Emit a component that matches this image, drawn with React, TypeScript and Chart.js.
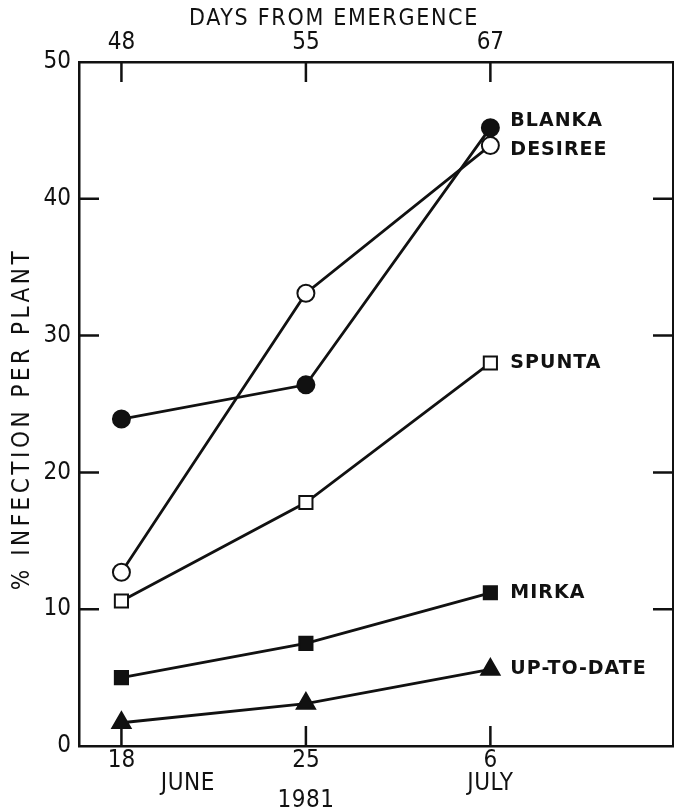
import React, { useEffect, useRef } from 'react';
import { Chart, registerables } from 'chart.js';

Chart.register(...registerables);

// ---- data ----
const X_INDEX = [0, 1, 2];
const DATE_LABELS = ['18', '25', '6'];
const DAY_LABELS = ['48', '55', '67'];
const BLANKA = [23.9, 26.4, 45.2];
const DESIREE = [12.7, 33.1, 43.9];
const SPUNTA = [10.6, 17.8, 28.0];
const MIRKA = [5.0, 7.5, 11.2];
const UP_TO_DATE = [1.7, 3.1, 5.6];
const Y_TICKS = [0, 10, 20, 30, 40, 50];
const Y_INNER_TICKS = [10, 20, 30, 40];
const MONTH_LABELS = ['JUNE', 'JULY'];
const YEAR_LABEL = '1981';
const X_TITLE_TOP = 'DAYS FROM EMERGENCE';
const Y_TITLE = '% INFECTION PER PLANT';

const INK = '#111111';
const NARROW = "'DejaVu Sans Condensed', 'DejaVu Sans', sans-serif";
const WIDE = "'DejaVu Sans', 'Noto Sans', sans-serif";

const SERIES = [
  { name: 'DESIREE', data: DESIREE, style: 'circle', filled: false, radius: 8.5, labelDy: 5 },
  { name: 'BLANKA', data: BLANKA, style: 'circle', filled: true, radius: 8.5, labelDy: -7 },
  { name: 'SPUNTA', data: SPUNTA, style: 'rect', filled: false, radius: 9.3, labelDy: 0 },
  { name: 'MIRKA', data: MIRKA, style: 'rect', filled: true, radius: 9.3, labelDy: 0 },
  { name: 'UP-TO-DATE', data: UP_TO_DATE, style: 'triangle', filled: true, radius: 10.5, labelDy: 0 },
];

const zeroPad = (s: any) => {
  s.paddingLeft = 0;
  s.paddingRight = 0;
  s.paddingTop = 0;
  s.paddingBottom = 0;
};

const decorPlugin = {
  id: 'decor',
  beforeDatasetsDraw(chart: any) {
    const ctx = chart.ctx;
    const { left, right, top, bottom } = chart.chartArea;
    const xs = chart.scales.x;
    const ys = chart.scales.y;
    const L = 20;
    ctx.save();
    ctx.strokeStyle = INK;
    ctx.lineWidth = 2.5;
    ctx.beginPath();
    for (const v of X_INDEX) {
      const px = xs.getPixelForValue(v);
      ctx.moveTo(px, bottom);
      ctx.lineTo(px, bottom - L);
      ctx.moveTo(px, top);
      ctx.lineTo(px, top + L);
    }
    for (const v of Y_INNER_TICKS) {
      const py = ys.getPixelForValue(v);
      ctx.moveTo(left, py);
      ctx.lineTo(left + L, py);
      ctx.moveTo(right, py);
      ctx.lineTo(right - L, py);
    }
    ctx.stroke();
    ctx.restore();
  },
  afterDraw(chart: any) {
    const ctx = chart.ctx;
    const xs = chart.scales.x;
    const ys = chart.scales.y;
    const { top, bottom } = chart.chartArea;
    ctx.save();
    ctx.fillStyle = INK;
    ctx.textBaseline = 'middle';

    // series labels
    ctx.font = `bold 19px ${WIDE}`;
    (ctx as any).letterSpacing = '1px';
    ctx.textAlign = 'left';
    SERIES.forEach((s) => {
      const last = X_INDEX.length - 1;
      const px = xs.getPixelForValue(X_INDEX[last]);
      const py = ys.getPixelForValue(s.data[last]);
      ctx.fillText(s.name, px + 20, py + s.labelDy);
    });

    // top title
    ctx.font = `23px ${NARROW}`;
    (ctx as any).letterSpacing = '1.7px';
    ctx.textAlign = 'center';
    ctx.fillText(X_TITLE_TOP, 334, top - 43);

    // month / year labels
    ctx.font = `24px ${NARROW}`;
    (ctx as any).letterSpacing = '0.5px';
    ctx.fillText(MONTH_LABELS[0], xs.getPixelForValue(0.36), bottom + 38);
    ctx.fillText(MONTH_LABELS[1], xs.getPixelForValue(X_INDEX[2]), bottom + 38);
    ctx.fillText(YEAR_LABEL, xs.getPixelForValue(X_INDEX[1]), bottom + 55);

    // y title
    (ctx as any).letterSpacing = '3.5px';
    ctx.translate(23, ys.getPixelForValue(23.9));
    ctx.rotate(-Math.PI / 2);
    ctx.fillText(Y_TITLE, 0, 0);
    ctx.restore();
  },
};

export default function App() {
  const ref = useRef<HTMLCanvasElement | null>(null);
  useEffect(() => {
    if (!ref.current) return;
    const tickFont = { family: NARROW, size: 24, lineHeight: 1 };
    const chart = new Chart(ref.current, {
      type: 'line',
      data: {
        datasets: SERIES.map((s) => ({
          label: s.name,
          data: X_INDEX.map((x, i) => ({ x, y: s.data[i] })),
          borderColor: INK,
          borderWidth: 2.8,
          pointStyle: s.style as any,
          pointRadius: s.radius,
          pointBackgroundColor: s.filled ? INK : '#ffffff',
          pointBorderColor: INK,
          pointBorderWidth: 2,
          tension: 0,
          clip: false,
          xAxisID: 'x',
          yAxisID: 'y',
        })),
      },
      options: {
        animation: false,
        responsive: false,
        layout: { padding: 0, autoPadding: false },
        plugins: { legend: { display: false }, tooltip: { enabled: false } },
        scales: {
          x: {
            type: 'linear',
            position: 'bottom',
            min: -0.23,
            max: 2.99,
            afterBuildTicks: (s: any) => {
              s.ticks = X_INDEX.map((v) => ({ value: v }));
            },
            afterFit: (s: any) => {
              s.height = 64;
              zeroPad(s);
            },
            ticks: {
              callback: (v: any) => DATE_LABELS[X_INDEX.indexOf(v)] ?? '',
              font: tickFont,
              color: INK,
              padding: 3,
              autoSkip: false,
              maxRotation: 0,
            },
            grid: { display: false, drawTicks: false },
            border: { display: true, color: INK, width: 2.5 },
          },
          xTop: {
            type: 'linear',
            position: 'top',
            min: -0.23,
            max: 2.99,
            afterBuildTicks: (s: any) => {
              s.ticks = X_INDEX.map((v) => ({ value: v }));
            },
            afterFit: (s: any) => {
              s.height = 62;
              zeroPad(s);
            },
            ticks: {
              callback: (v: any) => DAY_LABELS[X_INDEX.indexOf(v)] ?? '',
              font: tickFont,
              color: INK,
              padding: 7,
              autoSkip: false,
              maxRotation: 0,
            },
            grid: { display: false, drawTicks: false },
            border: { display: true, color: INK, width: 2.5 },
          },
          y: {
            type: 'linear',
            position: 'left',
            min: 0,
            max: 50,
            afterBuildTicks: (s: any) => {
              s.ticks = Y_TICKS.map((v) => ({ value: v }));
            },
            afterFit: (s: any) => {
              s.width = 79;
              zeroPad(s);
            },
            ticks: { font: tickFont, color: INK, padding: 8 },
            grid: { display: false, drawTicks: false },
            border: { display: true, color: INK, width: 2.5 },
          },
          yRight: {
            type: 'linear',
            position: 'right',
            min: 0,
            max: 50,
            afterFit: (s: any) => {
              s.width = 1;
              zeroPad(s);
            },
            ticks: { display: false },
            grid: { display: false, drawTicks: false },
            border: { display: true, color: INK, width: 2.5 },
          },
        },
      } as any,
      plugins: [decorPlugin],
    });
    return () => chart.destroy();
  }, []);
  return (
    <div style={{ position: 'absolute', left: 0, top: 0, width: 674, height: 810, background: '#fff' }}>
      <canvas ref={ref} width={674} height={810} style={{ display: 'block' }} />
    </div>
  );
}
